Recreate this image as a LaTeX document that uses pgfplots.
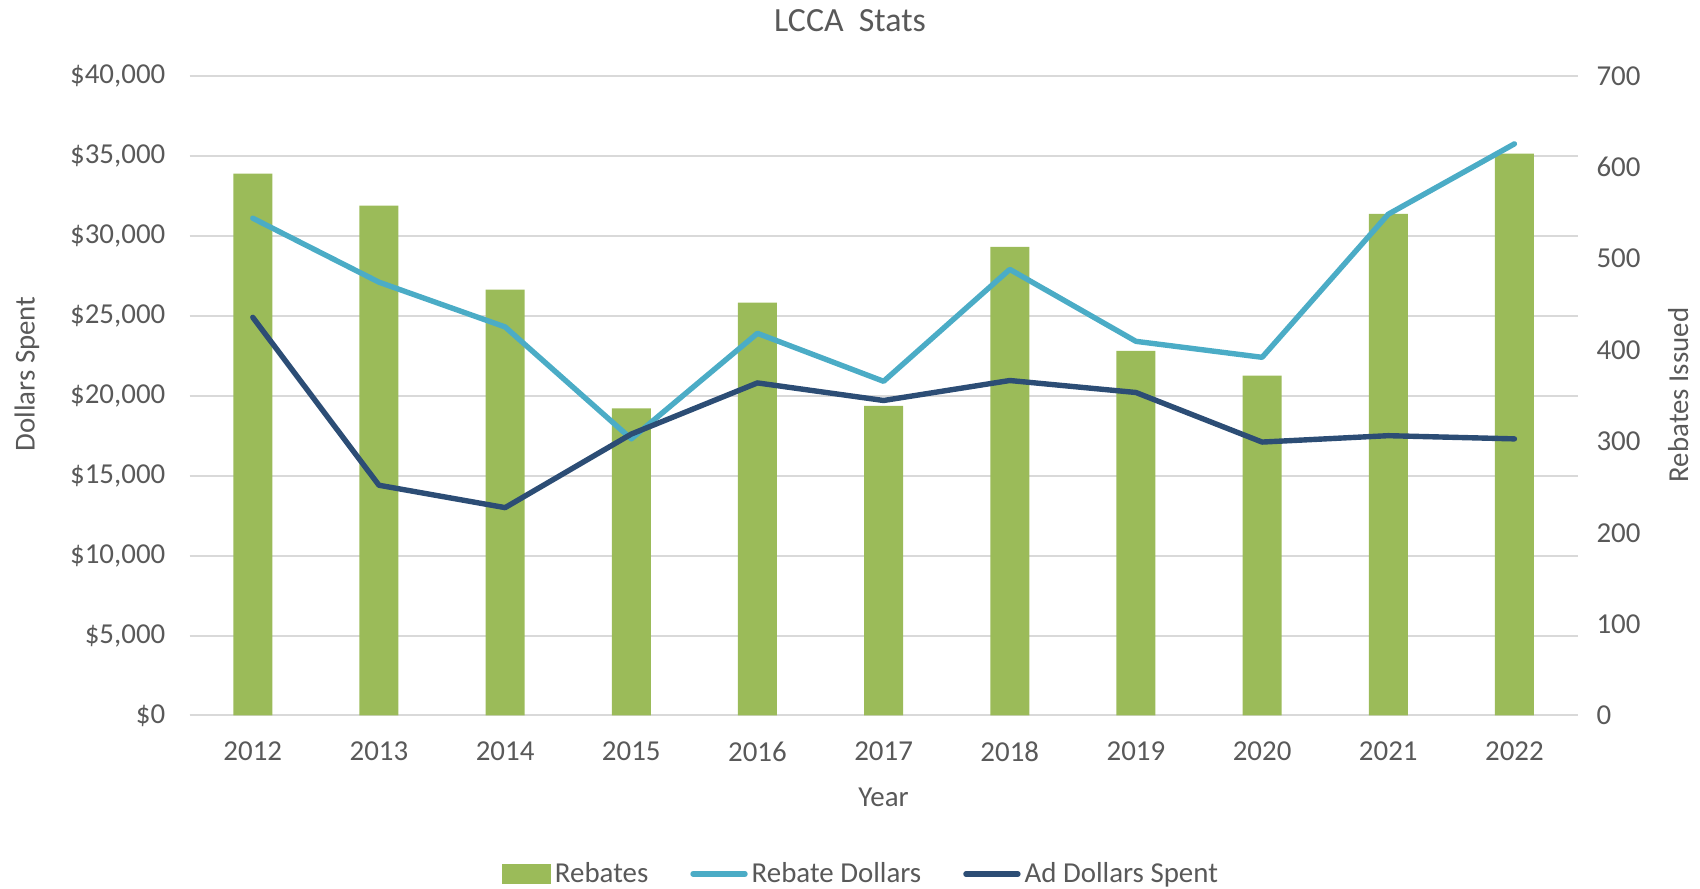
\documentclass[border=0pt]{standalone}
\usepackage{pgfplots}
\pgfplotsset{compat=1.18}
\usepackage{fontspec}
\setmainfont{Carlito}
\definecolor{barGreen}{HTML}{9BBB59}
\definecolor{lightBlue}{HTML}{4BACC6}
\definecolor{darkBlue}{HTML}{2C4D75}
\definecolor{gridGray}{HTML}{D9D9D9}
\definecolor{txt}{HTML}{595959}
\pgfplotsset{
  base/.style={
    at={(94.85bp,86.75bp)}, anchor=south west,
    scale only axis, width=693.9bp, height=319.8bp,
    xmin=-0.5, xmax=10.5,
    major tick length=0,
    tick label style={font=\fontsize{14.5}{17}\selectfont, text=txt},
    label style={font=\fontsize{14.5}{17}\selectfont, text=txt},
    /pgf/number format/assume math mode=true,
  }
}
\begin{document}
\begin{tikzpicture}[font=\fontsize{14.5}{17}\selectfont]
\path[use as bounding box] (0,0) rectangle (850bp,444.5bp);
% Axis 1: left scale, grid, labels
\begin{axis}[base,
  ymin=0, ymax=40000, ytick={0,5000,...,40000},
  ymajorgrids, grid style={gridGray, line width=1bp},
  axis x line*=bottom, axis y line*=left,
  y axis line style={draw=none},
  x axis line style={draw=gridGray, line width=1bp, -},
  xtick={0,...,10},
  xticklabels={2012,2013,2014,2015,2016,2017,2018,2019,2020,2021,2022},
  xticklabel style={yshift=-9.5bp},
  scaled y ticks=false,
  yticklabel={\$\pgfmathprintnumber[fixed,precision=0,1000 sep={,}]{\tick}},
  yticklabel style={xshift=-8.7bp},
  xlabel={Year},
  xlabel style={at={(axis description cs:0.5,-0.1275)}, anchor=center},
  ylabel={Dollars Spent},
  ylabel style={at={(axis description cs:-0.1172,0.534)}, anchor=center},
  title={LCCA\ \ Stats},
  title style={at={(axis description cs:0.4758,1.0848)}, anchor=center, yshift=-5.5bp, font=\fontsize{17}{20}\selectfont, text=txt},
]
\addplot[draw=none] coordinates {(0,0)};
\end{axis}
% Axis 2: right scale, bars
\begin{axis}[base,
  ymin=0, ymax=700, ytick={0,100,...,700},
  hide x axis,
  axis y line*=right,
  y axis line style={draw=none},
  yticklabel style={xshift=6bp, anchor=west},
  ylabel={Rebates Issued},
  ylabel style={at={(axis description cs:1.0725,0.501)}, anchor=center},
]
\addplot[ybar, bar width=19.5bp, fill=barGreen, draw=none] coordinates {
(0,593) (1,558) (2,466) (3,336) (4,452) (5,339) (6,513) (7,399) (8,372) (9,549) (10,615)
};
\end{axis}
% Axis 3: left scale, lines + legend
\begin{axis}[base,
  ymin=0, ymax=40000,
  hide axis,
  legend style={at={(axis description cs:0.4845,-0.2478)}, anchor=center,
    draw=none, fill=none, legend columns=3,
    font=\fontsize{14.5}{17}\selectfont, text=txt,
    /tikz/every even column/.append style={column sep=19bp}},
  legend cell align=left,
]
\addlegendimage{legend image code/.code={\fill[barGreen] (0bp,-4.6bp) rectangle (24bp,4.6bp);}}
\addlegendentry{Rebates}
\addplot[lightBlue, line width=2.7bp, line cap=round, line join=round,
  legend image code/.code={\draw[lightBlue, line width=2.7bp, line cap=round] (0bp,0bp) -- (26bp,0bp);}]
coordinates {
(0,31100) (1,27100) (2,24300) (3,17300) (4,23900) (5,20900) (6,27900) (7,23400) (8,22400) (9,31350) (10,35750)
};
\addlegendentry{Rebate Dollars}
\addplot[darkBlue, line width=2.7bp, line cap=round, line join=round,
  legend image code/.code={\draw[darkBlue, line width=2.7bp, line cap=round] (0bp,0bp) -- (26bp,0bp);}]
coordinates {
(0,24900) (1,14400) (2,13000) (3,17600) (4,20800) (5,19700) (6,20950) (7,20200) (8,17100) (9,17500) (10,17300)
};
\addlegendentry{Ad Dollars Spent}
\end{axis}
\end{tikzpicture}
\end{document}
